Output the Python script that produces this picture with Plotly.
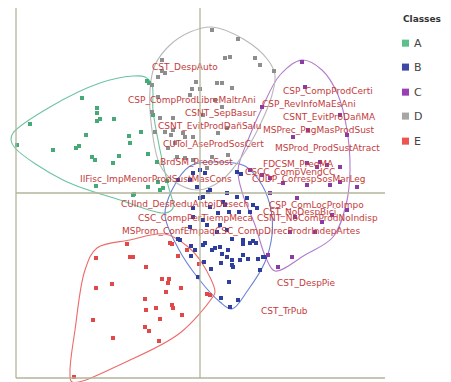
import plotly.graph_objects as go

# ---------------- data ----------------
classes = ["A", "B", "C", "D", "E"]
point_colors = ["#47a878", "#2f3fa0", "#8c3aa6", "#8e8e8e", "#e24848"]
hull_colors = ["#6cc3a0", "#6a82d6", "#b27ccc", "#b8b8b8", "#ee6a6a"]
legend_colors = ["#5dbf8c", "#3b48a8", "#9b40b3", "#a6a6a6", "#ef5350"]

a_x = [-0.53, -0.51, -1.18, -1.03, -1.03, -1.00, -1.03, -0.86, -0.47, -1.70, -1.14, -0.71, -0.59, -0.70,
       -1.47, -1.21, -1.24, -1.83, -1.08, -1.05, -0.87, -0.81, -0.52, -0.43, -0.42, -1.04, -0.66, -0.40,
       -0.37, -0.33, -0.52, -0.67]
a_y = [1.12, 1.10, 0.95, 0.85, 0.80, 0.74, 0.72, 0.74, 0.78, 0.69, 0.58, 0.57, 0.61, 0.50,
       0.43, 0.47, 0.45, 0.48, 0.36, 0.33, 0.30, 0.37, 0.39, 0.31, 0.11, 0.07, -0.01, 0.03,
       0.05, 0.12, 0.06, -0.02]

b_x = [-0.07, 0.05, 0.00, 0.37, 0.41, -0.22, -0.10, -0.03, 0.10, 0.27, 0.37, 0.47, 0.00, 0.23, -0.07,
       0.10, 0.25, 0.53, 0.57, 0.18, 0.29, 0.39, -0.07, 0.03, -0.10, 0.07, 0.20, 0.17, 0.27, -0.20,
       0.32, 0.43, 0.05, -0.22, -0.09, -0.05, 0.03, 0.15, 0.20, 0.28, 0.27, 0.22, 0.32, 0.32, 0.43,
       0.43, 0.50, 0.53, 0.56, 0.48, 0.58, 0.63, 0.60, 0.11, 0.04, 0.21, -0.09, -0.02, 0.29, 0.21,
       0.30, 0.38, 0.08, 0.03, 0.50, 0.40, 0.12, 0.65, 0.33]
b_y = [0.20, 0.20, 0.23, 0.21, 0.19, 0.13, 0.13, 0.06, 0.03, 0.00, -0.04, -0.05, -0.05, -0.09, -0.15,
       -0.14, -0.12, -0.12, -0.15, -0.20, -0.19, -0.19, -0.24, -0.27, -0.34, -0.32, -0.32, -0.39, -0.37, -0.47,
       -0.46, -0.47, -0.50, -0.46, -0.53, -0.57, -0.52, -0.55, -0.54, -0.57, -0.64, -0.61, -0.67, -0.72, -0.62,
       -0.51, -0.50, -0.48, -0.50, -0.66, -0.66, -0.64, -0.77, -0.76, -0.69, -0.70, -0.63, -0.84, -0.89, -1.05,
       -1.14, -1.07, 0.01, -0.04, -0.19, -0.67, -0.57, -0.64, -0.74]

c_x = [1.02, 1.05, 0.62, 1.40, 1.08, 0.93, 1.47, 1.17, 1.40, 1.07, 1.20, 1.27, 0.70, 0.83, 1.07,
       1.30, 1.40, 1.57, 0.70, 0.97, 0.95, 1.22, 1.32, 1.47, 0.90, 1.15, 0.92, 0.78, 0.68, 0.50, 0.62]
c_y = [1.31, 1.06, 0.86, 0.78, 0.63, 0.56, 0.58, 0.26, 0.26, 0.30, 0.31, 0.28, 0.15, 0.10, 0.08,
       0.08, 0.11, 0.06, 0.00, -0.05, -0.24, -0.29, -0.22, -0.17, -0.39, -0.39, -0.64, -0.74, -0.62, 0.23, 0.18]

d_x = [0.12, 0.38, 0.25, 0.30, 0.55, 0.60, 0.74, -0.38, -0.35, -0.42, -0.38, 0.17, 0.22, 0.32, -0.08,
       0.00, -0.10, -0.48, -0.42, -0.48, 0.15, -0.40, -0.27, -0.35, -0.27, -0.17, 0.18, 0.22, 0.03, -0.45,
       0.27, 0.12, 0.28, -0.04, -0.29, -0.15, -0.07, -0.25, -0.15, -0.07, -0.23, 0.07, -0.32]
d_y = [1.63, 1.54, 1.35, 1.36, 1.35, 1.28, 1.22, 1.33, 1.20, 1.16, 1.22, 1.10, 1.10, 1.05, 1.04,
       1.04, 0.98, 1.08, 0.96, 0.81, 0.93, 0.75, 0.75, 0.61, 0.63, 0.60, 0.60, 0.86, 0.78, 0.61,
       0.65, 0.36, 0.38, 1.11, 0.58, 0.56, 0.56, 0.50, 0.35, 0.33, 0.36, 0.25, 0.45]

e_x = [-0.73, -1.04, -0.70, -0.67, -0.54, -0.38, -0.31, -0.32, -1.04, -0.88, -0.19, -0.34, -0.55, -0.54,
       -0.44, -0.28, -0.27, -0.18, -0.40, -1.07, -0.55, -0.51, -0.87, -0.41, -1.26, -0.28, -0.30, -0.22,
       -0.13, -0.01, 0.07, 0.10]
e_y = [-0.51, -0.65, -0.64, -0.64, -0.74, -0.86, -0.86, -0.90, -0.95, -0.91, -0.95, -0.99, -1.06, -1.17,
       -1.15, -1.12, -1.15, -1.22, -1.26, -1.27, -1.34, -1.38, -1.45, -1.48, -1.84, -0.51, -0.50, -0.63,
       -0.57, -0.71, -1.01, -1.02]

hull_a_x = [-1.89, -1.87, -1.50, -1.00, -0.67, -0.55, -0.48, -0.47, -0.40, -0.32, -0.27, -0.35, -0.80, -1.37, -1.85]
hull_a_y = [0.53, 0.60, 0.86, 1.10, 1.17, 1.16, 1.08, 0.83, 0.43, 0.08, -0.15, -0.20, -0.07, 0.13, 0.45]

hull_b_x = [-0.10, 0.15, 0.45, 0.62, 0.71, 0.72, 0.65, 0.48, 0.32, 0.20, -0.02, -0.22, -0.35, -0.28]
hull_b_y = [0.27, 0.31, 0.27, 0.08, -0.17, -0.42, -0.69, -0.97, -1.16, -1.09, -0.85, -0.55, -0.22, 0.03]

hull_c_x = [1.02, 1.22, 1.38, 1.47, 1.50, 1.46, 1.33, 1.05, 0.75, 0.66, 0.55, 0.43, 0.38, 0.48, 0.62, 0.80]
hull_c_y = [1.33, 1.23, 0.98, 0.63, 0.23, -0.12, -0.44, -0.62, -0.78, -0.65, -0.32, -0.02, 0.23, 0.53, 0.85, 1.18]

hull_d_x = [0.12, 0.45, 0.68, 0.75, 0.72, 0.60, 0.43, 0.22, -0.02, -0.25, -0.40, -0.48, -0.50, -0.45, -0.30, -0.10]
hull_d_y = [1.66, 1.53, 1.33, 1.18, 0.98, 0.68, 0.38, 0.13, 0.03, 0.11, 0.28, 0.63, 1.03, 1.28, 1.48, 1.61]

hull_e_x = [-1.03, -0.70, -0.35, -0.13, 0.02, 0.15, 0.12, -0.20, -0.70, -1.28, -1.30, -1.25, -1.15]
hull_e_y = [-0.55, -0.47, -0.41, -0.53, -0.70, -0.99, -1.05, -1.40, -1.67, -1.89, -1.79, -1.37, -0.77]

label_text = ["CST_DespAuto", "CSP_CompProdLibreMaltrAni", "CSNT_SepBasur", "CSNT_EvitProdDañSalu",
              "CUTol_AseProdSosCert", "BrdSM_PreoSost", "IIFisc_ImpMenorProdSustMasCons",
              "CSP_CompProdCerti", "CSP_RevInfoMaEsAni", "CSNT_EvitProDañMA", "MSPrec_PagMasProdSust",
              "MSProd_ProdSustAtract", "FDCSM_PreoMA", "CSCC_CompVendCC", "CUDP_CorrespSosMarLeg",
              "CUInd_DesReduAntojDesech", "CSC_CompPerTiempMeca", "MSProm_ConfEmpaq",
              "CSC_CompDirecProdrIndepArtes", "CSP_ComLocProImpo", "CST_NoDespBici",
              "CSNT_NoComProdNoIndisp", "CST_DespPie", "CST_TrPub"]
label_x = [-0.48, -0.72, -0.15, -0.42, -0.37, -0.40, -1.20, 0.83, 0.62, 0.83, 0.63, 0.75, 0.63, 0.45, 0.52,
           -0.79, -0.62, -0.78, 0.15, 0.69, 0.63, 0.57, 0.77, 0.61]
label_y = [1.25, 0.92, 0.79, 0.66, 0.48, 0.30, 0.13, 1.01, 0.88, 0.75, 0.62, 0.44, 0.28, 0.20, 0.13,
           -0.12, -0.26, -0.39, -0.39, -0.13, -0.20, -0.26, -0.91, -1.19]

legend_title = "Classes"

# ---------------- figure ----------------
xs = [a_x, b_x, c_x, d_x, e_x]
ys = [a_y, b_y, c_y, d_y, e_y]
hx = [hull_a_x, hull_b_x, hull_c_x, hull_d_x, hull_e_x]
hy = [hull_a_y, hull_b_y, hull_c_y, hull_d_y, hull_e_y]

fig = go.Figure()
for i, name in enumerate(classes):
    fig.add_trace(go.Scatter(
        x=hx[i] + hx[i][:1], y=hy[i] + hy[i][:1], mode="lines",
        line=dict(color=hull_colors[i], width=1.1, shape="spline", smoothing=1.0),
        hoverinfo="skip", showlegend=False))
for i, name in enumerate(classes):
    fig.add_trace(go.Scatter(
        x=xs[i], y=ys[i], mode="markers", name=name,
        marker=dict(symbol="square", size=4, color=point_colors[i], line=dict(width=0)),
        showlegend=False))

fig.add_trace(go.Scatter(
    x=label_x, y=label_y, mode="text", text=label_text, textposition="middle right",
    textfont=dict(family="DejaVu Sans", size=9, color="#c43c3c"), showlegend=False,
    hoverinfo="skip", cliponaxis=False))

axis_color = "#b2b598"
XL, XR = -1.84, 1.85
YB, YT = -1.85, 1.85
shapes = [
    dict(type="line", xref="x", yref="y", x0=XL, x1=XL, y0=YB, y1=YT, line=dict(color=axis_color, width=1.3)),
    dict(type="line", xref="x", yref="y", x0=XL, x1=XR, y0=YB, y1=YB, line=dict(color=axis_color, width=1.3)),
    dict(type="line", xref="x", yref="y", x0=0, x1=0, y0=YB, y1=YT, line=dict(color=axis_color, width=1.3)),
    dict(type="line", xref="x", yref="y", x0=XL, x1=XR, y0=0, y1=0, line=dict(color=axis_color, width=1.3)),
]

annotations = []
# legend drawn in paper coords
leg_x0, leg_x1, leg_tx = 1.045, 1.0637, 1.0716
leg_y = [0.906, 0.842, 0.775, 0.711, 0.644]
annotations.append(dict(x=1.042, y=0.9706, xref="paper", yref="paper", text="<b>" + legend_title + "</b>",
                        showarrow=False, xanchor="left", yanchor="middle",
                        font=dict(family="DejaVu Sans", size=9, color="#333333")))
for i, name in enumerate(classes):
    shapes.append(dict(type="rect", xref="paper", yref="paper", x0=leg_x0, x1=leg_x1,
                       y0=leg_y[i] - 0.0094, y1=leg_y[i] + 0.0094,
                       fillcolor=legend_colors[i], line=dict(width=0)))
    annotations.append(dict(x=leg_tx, y=leg_y[i], xref="paper", yref="paper", text=name,
                            showarrow=False, xanchor="left", yanchor="middle",
                            font=dict(family="DejaVu Sans", size=11, color="#444444")))

fig.update_layout(
    width=443, height=374,
    margin=dict(l=0, r=66, t=0, b=0),
    paper_bgcolor="white", plot_bgcolor="white",
    xaxis=dict(range=[-1.92, 1.85], showgrid=False, zeroline=False, showticklabels=False,
               showline=False, ticks=""),
    yaxis=dict(range=[-1.89, 1.85], showgrid=False, zeroline=False, showticklabels=False,
               showline=False, ticks=""),
    shapes=shapes, annotations=annotations, showlegend=False,
)

fig.write_html("out.html")
